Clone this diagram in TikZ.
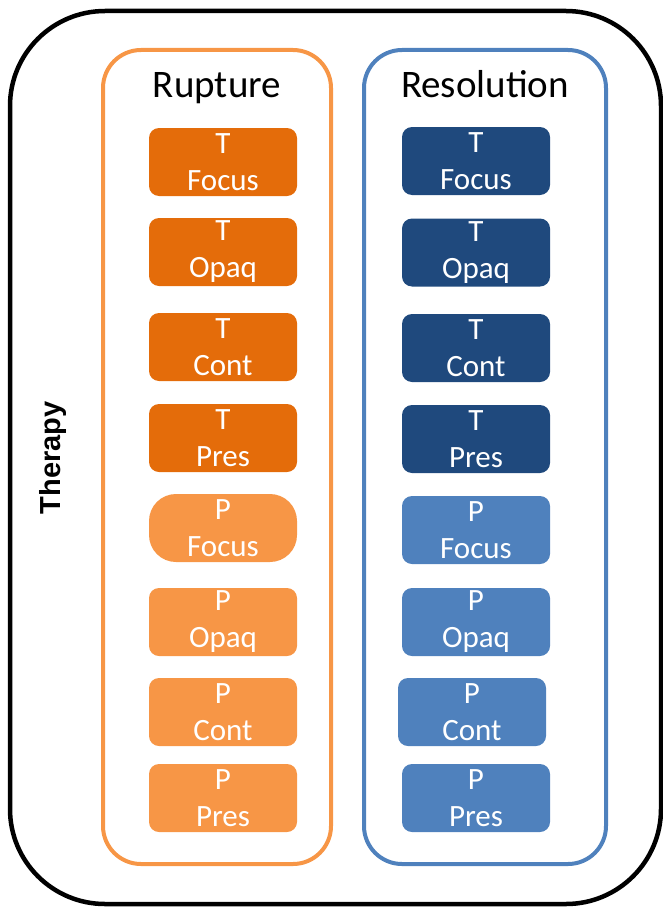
\documentclass[tikz,border=0pt]{standalone}
\usepackage{fontspec}
\setmainfont{Carlito}
\newfontfamily\labelsans{Liberation Sans}
\definecolor{ruptdark}{HTML}{E46C0A}
\definecolor{ruptlight}{HTML}{F79646}
\definecolor{resdark}{HTML}{1F497D}
\definecolor{resmid}{HTML}{4F81BD}
\begin{document}
\begin{tikzpicture}[x=1pt,y=-1pt,
  frame/.style={line width=4pt, rounded corners=38pt},
  title/.style={font=\fontsize{39}{44}\selectfont, text=black, anchor=base},
  codebox/.style={rounded corners=10pt, minimum width=148pt, minimum height=68pt,
    inner sep=0pt, text=white, align=center, font=\fontsize{31}{37}\selectfont},
  rdark/.style={codebox, fill=ruptdark},
  rlight/.style={codebox, fill=ruptlight},
  sdark/.style={codebox, fill=resdark},
  smid/.style={codebox, fill=resmid}]
\useasboundingbox (0,0) rectangle (663,907);
% outer frame
\draw[line width=4.5pt, rounded corners=95pt] (10,11) rectangle (661,904);
\node[font=\labelsans\bfseries\fontsize{29}{34}\selectfont, rotate=90] (therapy) at (53,458) {Therapy};
% column frames
\draw[frame, draw=ruptlight] (103,50) rectangle (331,864);
\draw[frame, draw=resmid] (364,50) rectangle (606,864);
\node[title] (rupture) at (217,97) {Rupture};
\node[title] (resolution) at (485,97) {Resolution};
% rupture column
\node[rdark] (rTFocus) at (223,162) {T\\Focus};
\node[rdark] (rTOpaq) at (223,252) {T\\Opaq};
\node[rdark] (rTCont) at (223,347) {T\\Cont};
\node[rdark] (rTPres) at (223,438) {T\\Pres};
\node[rlight, rounded corners=27pt] (rPFocus) at (223,528) {P\\Focus};
\node[rlight] (rPOpaq) at (223,622) {P\\Opaq};
\node[rlight] (rPCont) at (223,712) {P\\Cont};
\node[rlight] (rPPres) at (223,798) {P\\Pres};
% resolution column
\node[sdark] (sTFocus) at (476,161) {T\\Focus};
\node[sdark] (sTOpaq) at (476,252.5) {T\\Opaq};
\node[sdark] (sTCont) at (476,348) {T\\Cont};
\node[sdark] (sTPres) at (476,439) {T\\Pres};
\node[smid] (sPFocus) at (476,530) {P\\Focus};
\node[smid] (sPOpaq) at (476,622) {P\\Opaq};
\node[smid] (sPCont) at (472,712) {P\\Cont};
\node[smid] (sPPres) at (476,798) {P\\Pres};
\end{tikzpicture}
\end{document}
